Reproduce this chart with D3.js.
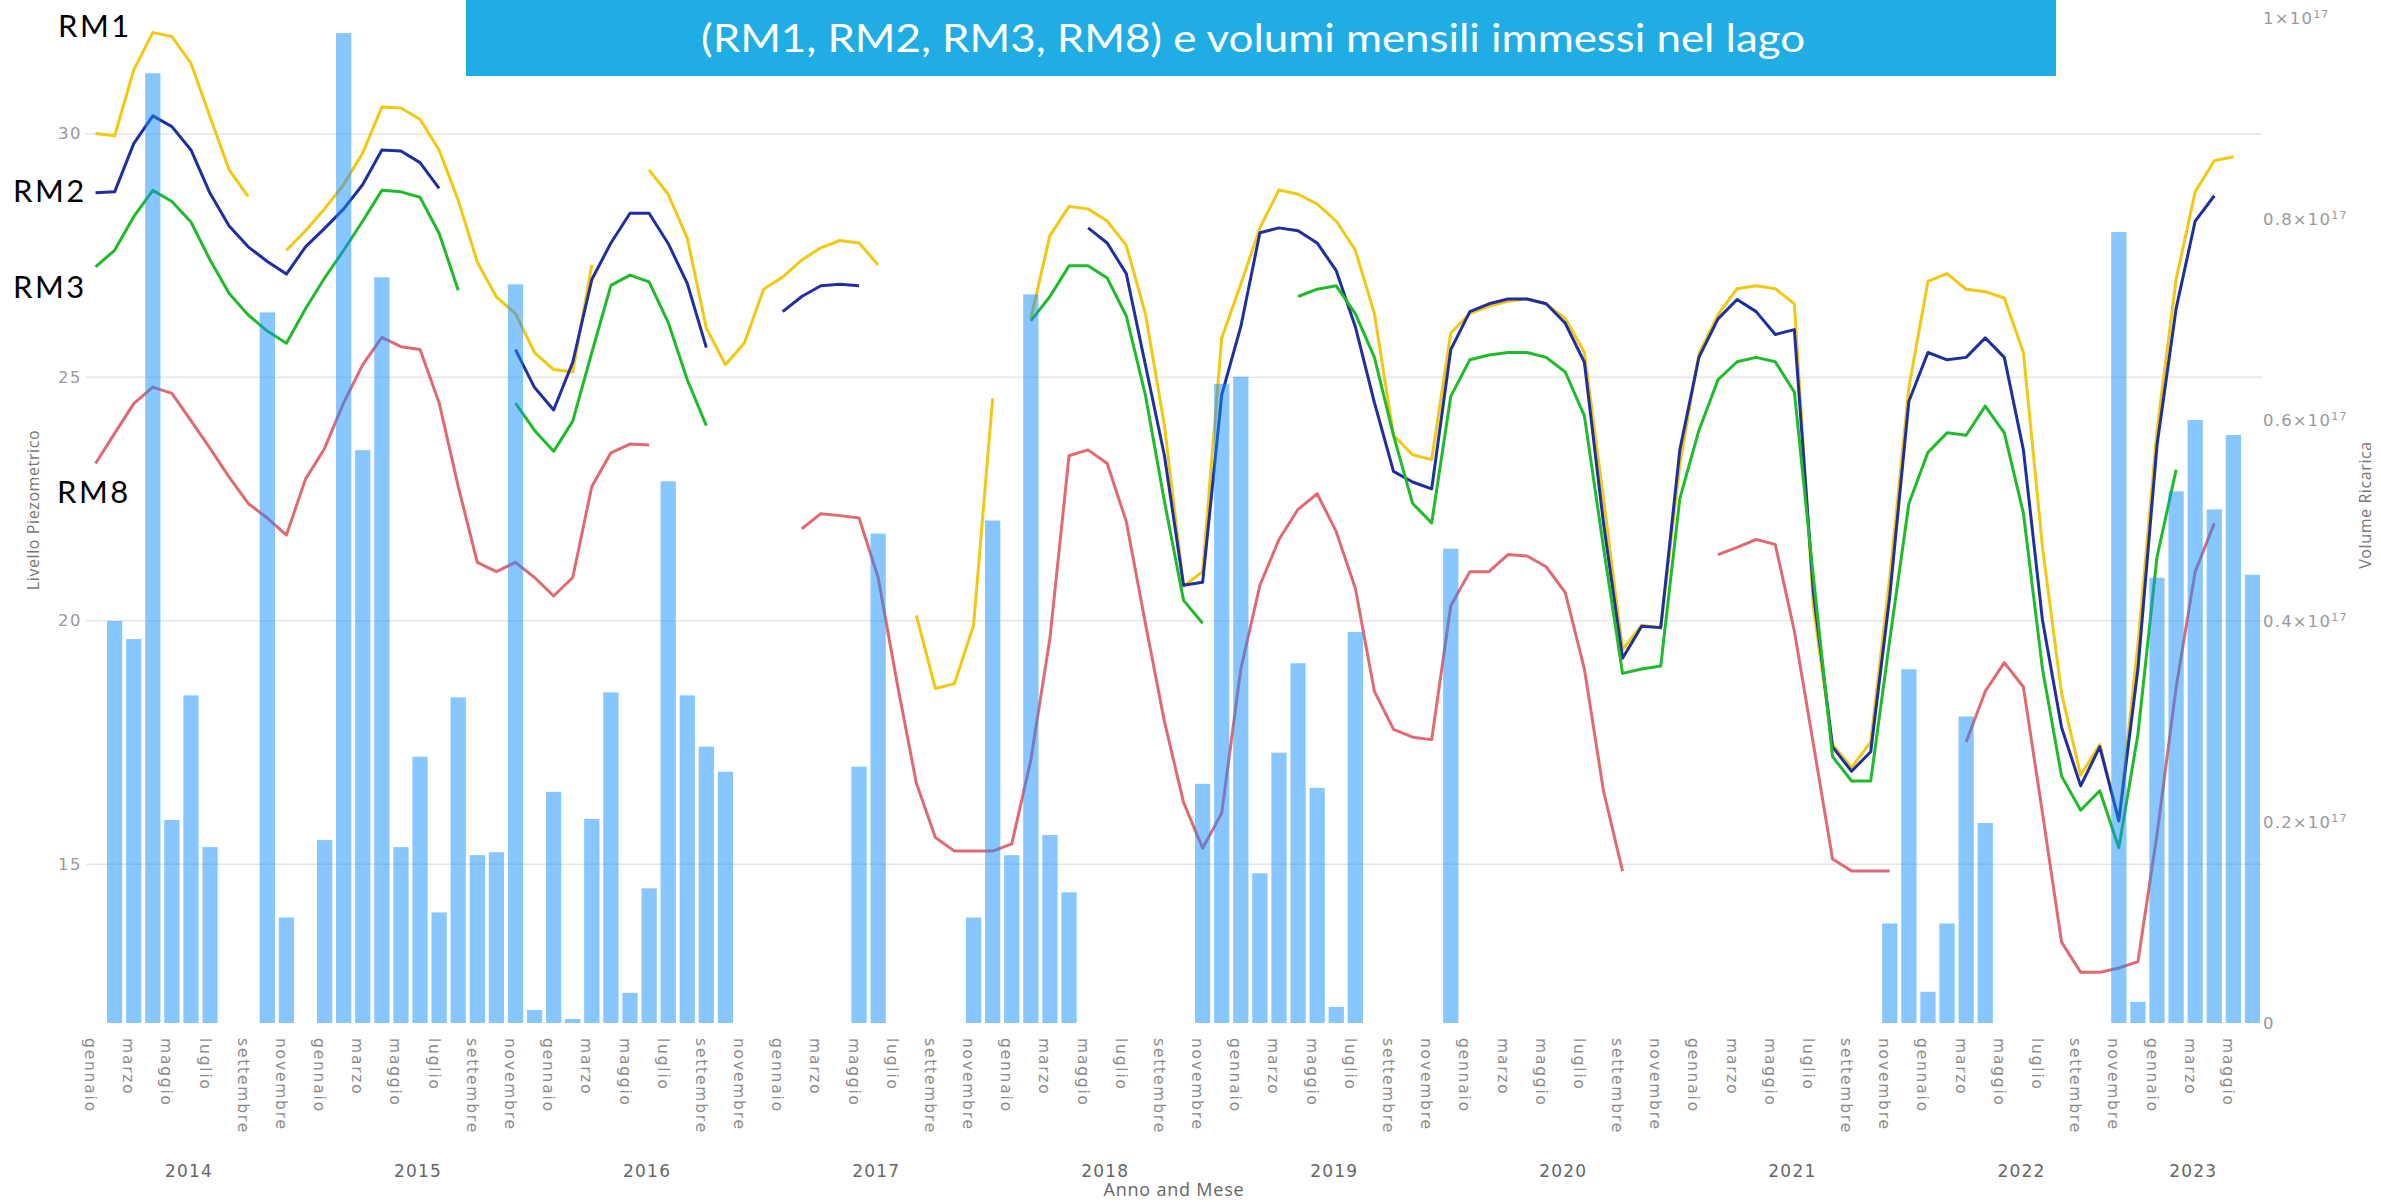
<!DOCTYPE html>
<html>
<head>
<meta charset="utf-8">
<script src="https://cdn.jsdelivr.net/npm/d3@7"></script>
<style>
  body { margin: 0; background: #fff; }
  svg { display: block; }
</style>
</head>
<body>
<svg id="chart"></svg>
<script>
// DATA
const months = ["gennaio","febbraio","marzo","aprile","maggio","giugno","luglio","agosto","settembre","ottobre","novembre","dicembre"];
const years = [2014,2015,2016,2017,2018,2019,2020,2021,2022,2023];
const nMonths = 114; // gennaio 2014 .. giugno 2023

const rm1 = [
  30.0, 29.95, 31.3, 32.07, 31.99, 31.44, 30.34, 29.25, 28.7, null, 27.6, 28.0,
  28.45, 28.95, 29.6, 30.54, 30.52, 30.29, 29.66, 28.63, 27.36, 26.64, 26.3, 25.5,
  25.15, 25.1, 27.3, null, null, 29.25, 28.75, 27.85, 26.0, 25.25, 25.7, 26.8,
  27.05, 27.4, 27.65, 27.8, 27.75, 27.3, null, 20.1, 18.6, 18.7, 19.9, 24.56,
  null, 26.2, 27.9, 28.5, 28.45, 28.2, 27.7, 26.3, 24.0, 20.7, 21.0, 25.8,
  26.9, 28.06, 28.84, 28.75, 28.55, 28.2, 27.6, 26.3, 23.8, 23.4, 23.3, 25.9,
  26.3, 26.45, 26.55, 26.6, 26.5, 26.2, 25.5, 22.5, 19.4, 19.9, 19.85, 23.2,
  25.47, 26.28, 26.81, 26.87, 26.81, 26.5, 20.26, 17.45, 16.98, 17.5, 20.88, 24.78,
  26.96, 27.12, 26.8, 26.75, 26.62, 25.5, 21.5, 18.5, 16.82, 17.45, 15.9, 19.5,
  23.9, 27.0, 28.8, 29.44, 29.52, null
];
const rm2 = [
  28.78, 28.8, 29.79, 30.36, 30.14, 29.66, 28.77, 28.1, 27.67, 27.37, 27.11, 27.67,
  28.05, 28.45, 28.95, 29.66, 29.64, 29.4, 28.87, null, null, null, 25.56, 24.78,
  24.32, 25.3, 27.0, 27.75, 28.36, 28.36, 27.74, 26.92, 25.6, null, null, null,
  26.34, 26.65, 26.87, 26.9, 26.87, null, null, null, null, null, null, null,
  null, null, null, null, 28.06, 27.75, 27.12, 25.25, 23.38, 20.72, 20.78, 24.63,
  26.03, 27.96, 28.06, 28.0, 27.75, 27.18, 26.03, 24.47, 23.06, 22.84, 22.7, 25.56,
  26.34, 26.5, 26.6, 26.6, 26.5, 26.1, 25.3, 22.0, 19.22, 19.88, 19.85, 23.5,
  25.4, 26.19, 26.59, 26.34, 25.87, 25.97, 20.57, 17.4, 16.9, 17.3, 20.5, 24.5,
  25.5, 25.35, 25.4, 25.8, 25.4, 23.5, 20.0, 17.8, 16.6, 17.4, 15.88, 19.0,
  23.6, 26.4, 28.2, 28.72, null, null
];
const rm3 = [
  27.26, 27.6, 28.29, 28.83, 28.6, 28.18, 27.4, 26.71, 26.27, 25.94, 25.69, 26.4,
  27.03, 27.6, 28.2, 28.83, 28.8, 28.69, 27.95, 26.78, null, null, 24.46, 23.9,
  23.47, 24.09, 25.5, 26.88, 27.09, 26.95, 26.12, 24.94, 24.0, null, null, null,
  null, null, null, null, null, null, null, null, null, null, null, null,
  null, 26.15, 26.65, 27.28, 27.28, 27.03, 26.25, 24.63, 22.44, 20.41, 19.94, null,
  null, null, null, 26.65, 26.8, 26.87, 26.3, 25.4, 23.8, 22.4, 22.0, 24.6,
  25.35, 25.45, 25.5, 25.5, 25.4, 25.1, 24.2, 21.5, 18.91, 19.0, 19.06, 22.5,
  23.9, 24.94, 25.31, 25.4, 25.31, 24.69, 20.88, 17.2, 16.7, 16.7, 19.6, 22.4,
  23.45, 23.85, 23.8, 24.4, 23.85, 22.2, 19.0, 16.8, 16.1, 16.5, 15.33, 17.66,
  21.3, 23.09, null, null, null, null
];
const rm8 = [
  23.22, 23.84, 24.45, 24.79, 24.66, 24.1, 23.53, 22.94, 22.4, 22.1, 21.75, 22.9,
  23.53, 24.47, 25.25, 25.81, 25.62, 25.56, 24.47, 22.75, 21.19, 21.0, 21.19, 20.88,
  20.5, 20.88, 22.75, 23.44, 23.62, 23.6, null, null, null, null, null, null,
  null, 21.88, 22.19, 22.15, 22.1, 20.88, 18.7, 16.66, 15.54, 15.26, 15.26, 15.26,
  15.41, 17.13, 19.63, 23.38, 23.5, 23.22, 22.03, 19.94, 17.92, 16.26, 15.32, 16.04,
  19.0, 20.72, 21.66, 22.28, 22.6, 21.82, 20.66, 18.54, 17.76, 17.6, 17.55, 20.3,
  21.0, 21.0, 21.35, 21.32, 21.1, 20.57, 19.0, 16.5, 14.85, null, null, null,
  null, 21.35, 21.5, 21.66, 21.56, 19.78, 17.45, 15.1, 14.85, 14.85, 14.85, null,
  null, null, 17.5, 18.54, 19.13, 18.63, 16.04, 13.39, 12.77, 12.77, 12.86, 12.99,
  15.6, 18.62, 21.0, 21.99, null, null
];
// volume ricarica, in units of 1e17
const volumi = [
  null, 0.40, 0.382, 0.945, 0.202, 0.326, 0.175, null, null, 0.707, 0.105, null,
  0.182, 0.985, 0.57, 0.742, 0.175, 0.265, 0.11, 0.324, 0.167, 0.17, 0.735, 0.013,
  0.23, 0.004, 0.203, 0.329, 0.03, 0.134, 0.539, 0.326, 0.275, 0.25, null, null,
  null, null, null, null, 0.255, 0.487, null, null, null, null, 0.105, 0.5,
  0.167, 0.725, 0.187, 0.13, null, null, null, null, null, null, 0.238, 0.636,
  0.643, 0.149, 0.269, 0.358, 0.234, 0.016, 0.389, null, null, null, null, 0.472,
  null, null, null, null, null, null, null, null, null, null, null, null,
  null, null, null, null, null, null, null, null, null, null, 0.099, 0.352,
  0.031, 0.099, 0.305, 0.199, null, null, null, null, null, null, 0.787, 0.021,
  0.443, 0.529, 0.6, 0.511, 0.585, 0.446
];
const leftTicks = [15, 20, 25, 30];
const rightTicks = [0, 0.2, 0.4, 0.6, 0.8, 1];

const series = [
  { name: "RM1", values: rm1, color: "#f2c811" },
  { name: "RM2", values: rm2, color: "#1f2f9e" },
  { name: "RM3", values: rm3, color: "#1fbb2a" },
  { name: "RM8", values: rm8, color: "#e06a72" }
];

// LAYOUT
const W = 2381, H = 1202;
const plot = { left: 86, right: 2262, top: 18, bottom: 1023 };
const idx = d3.range(nMonths);

const svg = d3.select("#chart").attr("width", W).attr("height", H);

// SCALES
const x = d3.scaleBand().domain(idx).range([plot.left, plot.right])
  .paddingInner(0.2).paddingOuter(0.1);
const cx = i => x(i) + x.bandwidth() / 2;
const yL = d3.scaleLinear().domain([11.73, 32.37]).range([plot.bottom, plot.top]);
const yR = d3.scaleLinear().domain([0, 1]).range([plot.bottom, plot.top]);

const tickFont = "'DejaVu Sans', Verdana, sans-serif";

// GRIDLINES
svg.append("g")
  .attr("transform", `translate(${plot.left},0)`)
  .call(d3.axisLeft(yL).tickValues(leftTicks).tickSize(-(plot.right - plot.left)).tickFormat(""))
  .call(g => g.select(".domain").remove())
  .call(g => g.selectAll("line").attr("stroke", "#e6e6e6").attr("stroke-width", 1.5));

// LEFT AXIS
svg.append("g")
  .attr("transform", `translate(${plot.left - 4},0)`)
  .call(d3.axisLeft(yL).tickValues(leftTicks).tickSize(0).tickPadding(0))
  .call(g => g.select(".domain").remove())
  .call(g => g.selectAll("text")
    .style("font-family", tickFont).style("font-size", "16.5px")
    .style("letter-spacing", "1.5px").attr("fill", "#999"));

// RIGHT AXIS
const rAxis = svg.append("g")
  .attr("transform", `translate(${plot.right + 1},0)`)
  .call(d3.axisRight(yR).tickValues(rightTicks).tickSize(0).tickPadding(0).tickFormat(""))
  .call(g => g.select(".domain").remove());
rAxis.selectAll(".tick text").each(function(d) {
  const t = d3.select(this)
    .style("font-family", tickFont).style("font-size", "16.5px")
    .style("letter-spacing", "1.2px").attr("fill", "#999");
  if (d === 0) { t.text("0"); return; }
  t.append("tspan").text((d === 1 ? "1" : d) + "×10");
  t.append("tspan").attr("dy", "-0.55em").style("font-size", "11px").text("17");
});

// X AXIS
const xAxis = svg.append("g")
  .attr("transform", `translate(0,${plot.bottom})`)
  .call(d3.axisBottom(x).tickValues(idx.filter(i => i % 2 === 0))
    .tickFormat(i => months[i % 12]).tickSize(0))
  .call(g => g.select(".domain").remove());
xAxis.selectAll("text")
  .attr("transform", "rotate(90)")
  .attr("x", 15).attr("y", 10.5).attr("dy", 0)
  .attr("text-anchor", "start")
  .style("font-family", tickFont).style("font-size", "15.5px")
  .style("letter-spacing", "1.8px").attr("fill", "#8a8a8a");

// YEAR LABELS
svg.append("g").selectAll("text")
  .data(years)
  .enter()
  .append("text")
  .attr("x", y => {
    const first = (y - years[0]) * 12;
    const last = Math.min(first + 11, nMonths - 1);
    return (cx(first) + cx(last)) / 2 - 11.5;
  })
  .attr("y", 1177)
  .attr("text-anchor", "middle")
  .style("font-family", tickFont).style("font-size", "17px")
  .style("letter-spacing", "1.2px").attr("fill", "#666")
  .text(y => y);

// AXIS TITLES
svg.append("text")
  .attr("x", (plot.left + plot.right) / 2).attr("y", 1196)
  .attr("text-anchor", "middle")
  .style("font-family", "'Open Sans', sans-serif").style("font-size", "18px")
  .style("letter-spacing", "0.8px").attr("fill", "#666")
  .text("Anno and Mese");
svg.append("text")
  .attr("transform", `translate(39,510) rotate(-90)`)
  .attr("text-anchor", "middle")
  .style("font-family", "'Open Sans', sans-serif").style("font-size", "16px")
  .style("letter-spacing", "0.6px").attr("fill", "#777")
  .text("Livello Piezometrico");
svg.append("text")
  .attr("transform", `translate(2371,505) rotate(-90)`)
  .attr("text-anchor", "middle")
  .style("font-family", "'Open Sans', sans-serif").style("font-size", "16px")
  .style("letter-spacing", "0.6px").attr("fill", "#777")
  .text("Volume Ricarica");

// LINES
const line = d3.line()
  .defined(d => d != null)
  .x((d, i) => cx(i))
  .y(d => yL(d));
svg.append("g").selectAll("path")
  .data(series)
  .enter()
  .append("path")
  .attr("fill", "none")
  .attr("stroke", s => s.color)
  .attr("stroke-width", 3)
  .attr("stroke-linejoin", "round")
  .attr("stroke-linecap", "butt")
  .attr("d", s => line(s.values));

// BARS (drawn on top, semi transparent)
svg.append("g").selectAll("rect")
  .data(idx.filter(i => volumi[i] != null))
  .enter()
  .append("rect")
  .attr("x", i => x(i))
  .attr("width", x.bandwidth())
  .attr("y", i => yR(volumi[i]))
  .attr("height", i => yR(0) - yR(volumi[i]))
  .attr("fill", "#118dff")
  .attr("fill-opacity", 0.5);

// TITLE BOX
svg.append("rect")
  .attr("x", 466).attr("y", -4).attr("width", 1590).attr("height", 80)
  .attr("fill", "#1fade3");
svg.append("text")
  .attr("x", 1253).attr("y", 52)
  .attr("text-anchor", "middle")
  .attr("textLength", 1104).attr("lengthAdjust", "spacingAndGlyphs")
  .style("font-family", "Lato, 'Open Sans', sans-serif").style("font-size", "38px")
  .attr("fill", "#fff")
  .text("(RM1, RM2, RM3, RM8) e volumi mensili immessi nel lago");

// SERIES LABELS
const seriesLabels = [
  { name: "RM1", x: 58, y: 37 },
  { name: "RM2", x: 13, y: 202 },
  { name: "RM3", x: 13, y: 298 },
  { name: "RM8", x: 57, y: 503 }
];
svg.append("g").selectAll("text")
  .data(seriesLabels)
  .enter()
  .append("text")
  .attr("x", d => d.x).attr("y", d => d.y)
  .style("font-family", "Lato, 'Open Sans', sans-serif").style("font-size", "31px")
  .style("letter-spacing", "2.5px")
  .attr("fill", "#000")
  .text(d => d.name);
</script>
</body>
</html>
